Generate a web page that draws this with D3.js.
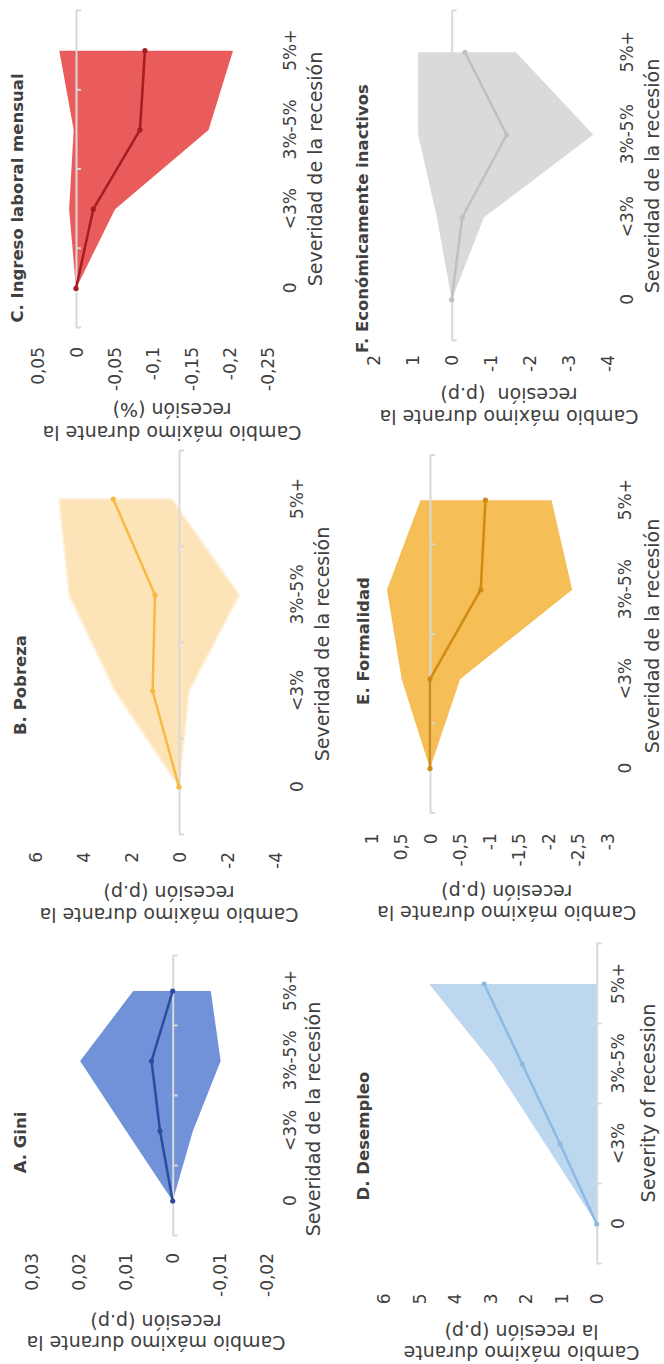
<!DOCTYPE html>
<html>
<head>
<meta charset="utf-8">
<script src="https://cdn.jsdelivr.net/npm/d3@7"></script>
<style>
  html, body { margin: 0; padding: 0; background: #ffffff; }
  svg { display: block; }
</style>
</head>
<body>
<svg id="chart" width="664" height="1364"></svg>
<script>
// Recession severity buckets (shared by all six panels)
const categories = ["0", "<3%", "3%-5%", "5%+"];

// A. Gini
const giniMean  = [0, 0.0027, 0.0045, 0.0000];
const giniUpper = [0, 0.0099, 0.0197, 0.0084];
const giniLower = [0, -0.0043, -0.0102, -0.0081];
const giniTicks = [0.03, 0.02, 0.01, 0, -0.01, -0.02];

// B. Pobreza
const pobrezaMean  = [0, 1.10, 1.00, 2.74];
const pobrezaUpper = [0, 2.67, 4.58, 5.00];
const pobrezaLower = [0, -0.42, -2.51, 0.30];
const pobrezaTicks = [6, 4, 2, 0, -2, -4];

// C. Ingreso laboral mensual
const ingresoMean  = [0, -0.0226, -0.0835, -0.0900];
const ingresoUpper = [0, 0.0090, 0.0030, 0.0218];
const ingresoLower = [0, -0.0510, -0.1730, -0.2050];
const ingresoTicks = [0.05, 0, -0.05, -0.1, -0.15, -0.2, -0.25];

// D. Desempleo
const desempleoMean  = [0, 1.03, 2.10, 3.17];
const desempleoUpper = [0, 1.45, 2.91, 4.72];
const desempleoLower = [0, 0, 0, 0];
const desempleoTicks = [6, 5, 4, 3, 2, 1, 0];

// E. Formalidad
const formalidadMean  = [0, 0.00, -0.86, -0.94];
const formalidadUpper = [0, 0.48, 0.73, 0.16];
const formalidadLower = [0, -0.51, -2.41, -2.06];
const formalidadTicks = [1, 0.5, 0, -0.5, -1, -1.5, -2, -2.5, -3];

// F. Económicamente inactivos
const inactivosMean  = [0, -0.27, -1.41, -0.34];
const inactivosUpper = [0, 0.38, 0.86, 0.86];
const inactivosLower = [0, -0.83, -3.63, -1.65];
const inactivosTicks = [2, 1, 0, -1, -2, -3, -4];

const panelTitles = ["A. Gini", "B. Pobreza", "C. Ingreso laboral mensual",
                     "D. Desempleo", "E. Formalidad", "F. Económicamente inactivos"];
const valueTitles = [
  ["Cambio máximo durante la", "recesión (p.p)"],
  ["Cambio máximo durante la", "recesión (p.p)"],
  ["Cambio máximo durante la", "recesión (%)"],
  ["Cambio máximo durante", "la recesión (p.p)"],
  ["Cambio máximo durante la", "recesión (p.p)"],
  ["Cambio máximo durante la", "recesión  (p.p)"]
];
const categoryTitles = ["Severidad de la recesión", "Severidad de la recesión", "Severidad de la recesión",
                        "Severity of recession", "Severidad de la recesión", "Severidad de la recesión"];

// Panel layout in the landscape frame (1364 x 664), later turned a quarter-turn.
const layout = [
  { x0: 128,   x1: 408,   yTop: 31.7,  yBot: 266.7, tickEnd: 111,   vtX: [21, 42],       vtY: 156,   tX: 221.5, tY: 20,    catY: 290,   ctX: 245,  ctY: 313,
    fill: "#7191d9", stroke: "none", line: "#2c4ca0" },
  { x0: 529,   x1: 913,   yTop: 35,    yBot: 275,   tickEnd: 512,   vtX: [449, 471],     vtY: 169,   tX: 679,   tY: 20,    catY: 297,   ctX: 720,  ctY: 322,
    fill: "#fde4b8", stroke: "#fff0d8", line: "#f7b946" },
  { x0: 1036,  x1: 1353,  yTop: 37.7,  yBot: 267.5, tickEnd: 1017,  vtX: [931, 954],     vtY: 172,   tX: 1166,  tY: 17,    catY: 290,   ctX: 1195, ctY: 315,
    fill: "#ea5b5c", stroke: "none", line: "#a51d21" },
  { x0: 100,   x1: 420,   yTop: 383.7, yBot: 596.7, tickEnd: 70.7,  vtX: [11.5, 32.5],   vtY: 521.5, tX: 228,   tY: 363,   catY: 618,   ctX: 261,  ctY: 648,
    fill: "#bdd7ee", stroke: "none", line: "#8dbae4" },
  { x0: 550.7, x1: 908.5, yTop: 371,   yBot: 607,   tickEnd: 530.7, vtX: [450.7, 472.3], vtY: 506.7, tX: 723,   tY: 363,   catY: 625,   ctX: 728,  ctY: 651.7,
    fill: "#f5be57", stroke: "none", line: "#cf8b12" },
  { x0: 1023,  x1: 1353,  yTop: 373.7, yBot: 607.7, tickEnd: 1009,  vtX: [947.3, 969],   vtY: 509,   tX: 1145.5, tY: 361.7, catY: 626.7, ctX: 1188, ctY: 651.7,
    fill: "#dadada", stroke: "none", line: "#c0c0c0" }
];

const series = [
  { mean: giniMean,       upper: giniUpper,       lower: giniLower,       ticks: giniTicks },
  { mean: pobrezaMean,    upper: pobrezaUpper,    lower: pobrezaLower,    ticks: pobrezaTicks },
  { mean: ingresoMean,    upper: ingresoUpper,    lower: ingresoLower,    ticks: ingresoTicks },
  { mean: desempleoMean,  upper: desempleoUpper,  lower: desempleoLower,  ticks: desempleoTicks },
  { mean: formalidadMean, upper: formalidadUpper, lower: formalidadLower, ticks: formalidadTicks },
  { mean: inactivosMean,  upper: inactivosUpper,  lower: inactivosLower,  ticks: inactivosTicks }
];

const FONT = "'DejaVu Sans', sans-serif";
const TEXT = "#404040";
const AXIS = "#d9d9d9";
const fmt = v => String(v).replace(".", ",");

const svg = d3.select("#chart");
// The figure is laid out landscape and turned so that it reads bottom-to-top.
const root = svg.append("g").attr("transform", "translate(0,1364) rotate(-90)");

series.forEach((s, i) => {
  const L = layout[i];
  const g = root.append("g").attr("class", "panel");

  const x = d3.scalePoint().domain(categories).range([L.x0, L.x1]).padding(0.5);
  const edges = d3.scaleLinear().domain([0, categories.length]).range([L.x0, L.x1]);
  const y = d3.scaleLinear().domain(d3.extent(s.ticks)).range([L.yBot, L.yTop]);

  const rows = categories.map((c, k) => ({ c, mean: s.mean[k], lo: s.lower[k], hi: s.upper[k] }));

  // min–max band
  g.append("path")
    .datum(rows)
    .attr("d", d3.area().x(d => x(d.c)).y0(d => y(d.lo)).y1(d => y(d.hi)))
    .attr("fill", L.fill)
    .attr("stroke", L.stroke)
    .attr("stroke-width", L.stroke === "none" ? 0 : 2)
    .attr("stroke-linejoin", "round");

  // category axis along zero, ticks between buckets
  const catAxis = g.append("g")
    .attr("transform", `translate(0,${y(0)})`)
    .call(d3.axisBottom(edges).tickValues(d3.range(0, categories.length + 1))
      .tickFormat("").tickSize(5).tickSizeOuter(0));
  catAxis.select(".domain").attr("stroke", AXIS).attr("stroke-width", 2);
  catAxis.selectAll(".tick line").attr("stroke", AXIS).attr("stroke-width", 2);

  // value axis labels only
  const valAxis = g.append("g")
    .attr("transform", `translate(${L.tickEnd},0)`)
    .call(d3.axisLeft(y).tickValues(s.ticks).tickFormat(fmt).tickSize(0).tickPadding(0));
  valAxis.select(".domain").remove();
  valAxis.selectAll("text")
    .attr("x", 0).attr("dy", "0.36em")
    .attr("fill", TEXT).style("font-family", FONT).style("font-size", "17px");

  // category labels
  const catLab = g.append("g")
    .attr("transform", `translate(0,${L.catY})`)
    .call(d3.axisBottom(x).tickSize(0).tickPadding(0));
  catLab.select(".domain").remove();
  catLab.selectAll("text")
    .attr("y", 0).attr("dy", "0.36em")
    .attr("fill", TEXT).style("font-family", FONT).style("font-size", "17px");

  // average path with markers
  g.append("path")
    .datum(rows)
    .attr("d", d3.line().x(d => x(d.c)).y(d => y(d.mean)))
    .attr("fill", "none")
    .attr("stroke", L.line)
    .attr("stroke-width", 2.5)
    .attr("stroke-linejoin", "round");
  g.selectAll("circle.pt")
    .data(rows)
    .join("circle")
    .attr("class", "pt")
    .attr("cx", d => x(d.c))
    .attr("cy", d => y(d.mean))
    .attr("r", 2.6)
    .attr("fill", L.line);

  // panel title
  g.append("text")
    .attr("x", L.tX).attr("y", L.tY).attr("dy", "0.36em")
    .attr("text-anchor", "middle")
    .attr("fill", TEXT)
    .style("font-family", FONT).style("font-size", "16.5px").style("font-weight", "bold")
    .text(panelTitles[i]);

  // category axis title
  g.append("text")
    .attr("x", L.ctX).attr("y", L.ctY).attr("dy", "0.36em")
    .attr("text-anchor", "middle")
    .attr("fill", TEXT)
    .style("font-family", FONT).style("font-size", "19px")
    .text(categoryTitles[i]);

  // value axis title (two lines, rotated)
  valueTitles[i].forEach((line, k) => {
    g.append("text")
      .attr("transform", `translate(${L.vtX[k]},${L.vtY}) rotate(-90)`)
      .attr("dy", "0.36em")
      .attr("text-anchor", "middle")
      .attr("fill", TEXT)
      .style("font-family", FONT).style("font-size", "19px")
      .style("white-space", "pre")
      .text(line);
  });
});
</script>
</body>
</html>
